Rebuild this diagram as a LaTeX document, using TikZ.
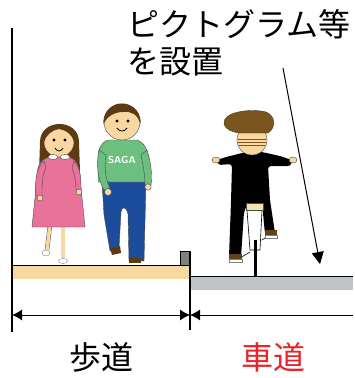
\documentclass[tikz,border=0pt]{standalone}
\usepackage{fontspec}
\newfontfamily\jpfont{Noto Sans CJK JP}
\usetikzlibrary{arrows.meta,positioning}
\definecolor{skin}{HTML}{F8D8A0}
\definecolor{hair}{HTML}{5C3A12}
\definecolor{capbrown}{HTML}{7A5520}
\definecolor{dress}{HTML}{E9729A}
\definecolor{sweater}{HTML}{6CBF7E}
\definecolor{jeans}{HTML}{1C4C9C}
\definecolor{walk}{HTML}{F6D9A1}
\definecolor{road}{HTML}{BFC3C6}
\definecolor{curb}{HTML}{808080}
\definecolor{seat}{HTML}{F3E5A8}
\definecolor{carred}{HTML}{E8242A}
\definecolor{outline}{HTML}{4A4A4A}

\begin{document}
\begin{tikzpicture}[x=1pt,y=-1pt,
    lbl/.style={font=\jpfont\fontsize{32}{37}\selectfont,inner sep=0pt},
    dim/.style={line width=1pt,>={Latex[length=10pt,width=11pt]}},
    body/.style={draw=outline,line width=0.4pt,line join=round},
    frame/.style={line width=0.6pt}
]
\useasboundingbox (0,0) rectangle (355,378);

% ground: sidewalk, curb and road
\fill[walk] (12,265) rectangle (190,279);
\fill[road] (190,276) rectangle (353,290);
\draw[line width=1pt] (12,265) -- (190,265);
\draw[line width=1pt] (190,276) -- (353,276);
\filldraw[fill=curb,draw=black,line width=0.8pt] (180,251) rectangle (190,265);
\draw[line width=1.2pt] (12,28) -- (12,332);
\draw[line width=1.2pt] (190,251) -- (190,330);

% widths
\coordinate (wl) at (12,315);
\coordinate (wr) at (190,315);
\coordinate (re) at (353,315);
\draw[dim,<->] (wl) -- (wr);
\draw[dim,<-] (wr) -- (re);

\node[lbl] (walkway) at (101,357) {歩道};
\node[lbl,text=carred] (roadway) at (273,357) {車道};
\node[lbl,anchor=north west,align=left] (sign) at (127,9) {ピクトグラム等\\を設置};

\coordinate (pointer) at (283,68);
\coordinate (mark) at (320,264);
\draw[line width=1pt,-{Triangle[length=12pt,width=12pt]}] (pointer) -- (mark);

% girl
\fill[hair] (39,173) -- (40,142) .. controls (40,118) and (79,118) .. (79,142) -- (80,172) -- cycle;
\draw[body,double=skin,double distance=3.6pt] (50,225) -- (47,250);
\draw[body,double=skin,double distance=3.6pt] (63,225) -- (63,258);
\filldraw[fill=white,draw=gray] (46,253) ellipse (4 and 3);
\filldraw[fill=white,draw=gray] (63,261) ellipse (4.5 and 2.5);
\filldraw[body,fill=dress] (50,157) .. controls (40,159) and (37,166) .. (37,178) -- (32,227) -- (85,227) -- (80,178) .. controls (80,166) and (77,159) .. (68,157) -- cycle;
\filldraw[body,fill=dress] (44,161) .. controls (35,168) and (35,185) .. (36,196) -- (42,196) .. controls (42,185) and (42,175) .. (46,168) -- cycle;
\filldraw[body,fill=dress] (74,161) .. controls (81,168) and (81,180) .. (81,190) -- (76,190) .. controls (76,182) and (75,175) .. (72,168) -- cycle;
\filldraw[body,fill=skin] (40,198) circle (3);
\filldraw[body,fill=skin] (79,192) circle (3);
\filldraw[body,fill=skin] (59,142) circle (15);
\fill[hair] (44,142) .. controls (42,120) and (76,120) .. (74,142) .. controls (72,134) and (66,130) .. (59,129) .. controls (52,130) and (46,135) .. cycle;
\filldraw[body,fill=white] (53,157) ellipse (5 and 2.5);
\filldraw[body,fill=white] (65,157) ellipse (5 and 2.5);
\fill (54,140) circle (1.6) (65,140) circle (1.6);
\draw[line width=0.8pt] (55,148) .. controls (57,152) and (61,152) .. (63,148);

% boy
\filldraw[body,fill=jeans] (102,181) -- (146,181) -- (144,261) -- (129,261) -- (128,214) .. controls (126,206) and (122,206) .. (121,212) -- (119,248) -- (110,251) -- (104,215) -- cycle;
\fill[hair] (110,248) -- (120,246) -- (121,253) -- (112,255) -- cycle;
\fill[hair] (129,258) rectangle (141,263);
\filldraw[body,fill=sweater] (108,140) .. controls (100,143) and (98,150) .. (98,160) -- (98,182) -- (148,182) -- (148,160) .. controls (148,150) and (145,143) .. (137,140) -- cycle;
\filldraw[body,fill=sweater] (99,150) .. controls (96,165) and (98,180) .. (104,190) -- (110,188) .. controls (105,178) and (104,165) .. (106,155) -- cycle;
\filldraw[body,fill=sweater] (147,150) .. controls (152,165) and (152,178) .. (151,185) -- (145,185) .. controls (145,175) and (143,165) .. (141,155) -- cycle;
\filldraw[body,fill=skin] (108,192) circle (3.5);
\filldraw[body,fill=skin] (148,187) circle (3.2);
\node[font=\sffamily\bfseries\fontsize{10}{10}\selectfont,text=white] (saga) at (122,160) {SAGA};
\filldraw[body,fill=skin] (122,122) circle (18);
\fill[hair] (122,122) ++(172:18.6) arc[start angle=172,end angle=368,radius=18.6]
  .. controls (138,114) and (131,111) .. (123,112) .. controls (114,112) and (106,117) .. cycle;
\fill (117,121) circle (1.6) (128,121) circle (1.6);
\draw[line width=0.8pt] (117,128) .. controls (119,132) and (125,132) .. (127,128);

% cyclist
\draw[line width=3pt] (255,240) -- (255,276);
\draw[frame] (247,210) -- (250,250) -- (260,250) -- (262,210);
\draw[frame] (240,258) -- (250,252);
\draw[frame] (262,240) -- (268,236);
\fill[rounded corners=3pt] (246,152) -- (226,157) -- (217,160) -- (218,165) -- (232,164) -- (231,202) -- (229,257) -- (241,257) -- (244,212) -- (248,203) -- (262,203) -- (265,234) -- (275,233) -- (270,200) -- (268,166) -- (291,166) -- (292,160) -- (280,156) -- (262,152) -- cycle;
\filldraw[fill=seat,draw=outline] (246,203) rectangle (263,210);
\fill[capbrown!80!black] (229,254) rectangle (242,259);
\filldraw[fill=white,draw=gray] (229,259) rectangle (242,262);
\fill[capbrown!80!black] (265,230) rectangle (277,235);
\filldraw[fill=white,draw=gray] (265,235) rectangle (277,238);
\filldraw[body,fill=skin] (216,160) ellipse (4 and 3);
\filldraw[body,fill=skin] (293,160) ellipse (4 and 3);
\filldraw[body,fill=skin] (252,140) circle (15);
\begin{scope}
  \clip (252,140) circle (14.5);
  \foreach \y in {139,142,145}
    \draw[capbrown,line width=1pt] (236,\y) -- (268,\y);
\end{scope}
\filldraw[fill=capbrown,draw=capbrown!60!black] (224,124) .. controls (222,112) and (250,108) .. (266,112) .. controls (276,116) and (276,128) .. (268,133) -- (240,133) .. controls (232,132) and (226,130) .. cycle;
\end{tikzpicture}
\end{document}
